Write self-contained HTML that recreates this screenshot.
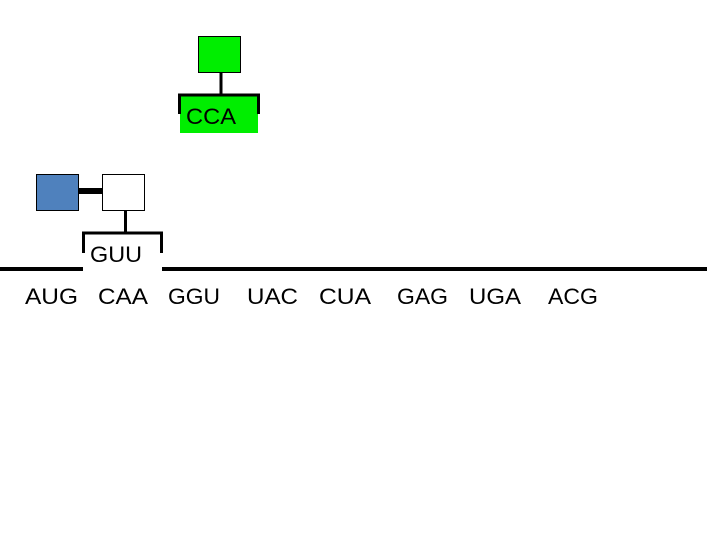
<!DOCTYPE html>
<html><head><meta charset="utf-8"><style>
html,body{margin:0;padding:0;background:#fff;width:720px;height:540px;overflow:hidden}
svg text{font-family:"Liberation Sans",sans-serif;font-size:22px;fill:#000}
</style></head><body>
<svg width="720" height="540" viewBox="0 0 720 540" xmlns="http://www.w3.org/2000/svg">
<!-- green tRNA -->
<rect x="198.5" y="36.5" width="42" height="36" fill="#00ee00" stroke="#000" stroke-width="1"/>
<line x1="221" y1="72" x2="221" y2="95" stroke="#000" stroke-width="3"/>
<rect x="180" y="95" width="78" height="38" fill="#00ee00"/>
<line x1="178" y1="95" x2="260" y2="95" stroke="#000" stroke-width="3"/>
<line x1="179.5" y1="94" x2="179.5" y2="114" stroke="#000" stroke-width="3"/>
<line x1="258.5" y1="94" x2="258.5" y2="114" stroke="#000" stroke-width="3"/>
<text x="186" y="124" textLength="50" lengthAdjust="spacingAndGlyphs">CCA</text>
<!-- blue/white tRNA -->
<rect x="36.5" y="174.5" width="42" height="36" fill="#4f81bd" stroke="#000" stroke-width="1"/>
<rect x="102.5" y="174.5" width="42" height="36" fill="#fff" stroke="#000" stroke-width="1"/>
<rect x="78" y="188" width="24" height="6" fill="#000"/>
<line x1="125.5" y1="210" x2="125.5" y2="233" stroke="#000" stroke-width="3"/>
<line x1="82" y1="233" x2="163" y2="233" stroke="#000" stroke-width="3"/>
<line x1="83.5" y1="232" x2="83.5" y2="253" stroke="#000" stroke-width="3"/>
<line x1="161.5" y1="232" x2="161.5" y2="253" stroke="#000" stroke-width="3"/>
<text x="90" y="262" textLength="52" lengthAdjust="spacingAndGlyphs">GUU</text>
<!-- mRNA line -->
<rect x="0" y="267" width="83" height="4" fill="#000"/>
<rect x="162" y="267" width="545" height="4" fill="#000"/>
<text x="25" y="304" textLength="53" lengthAdjust="spacingAndGlyphs">AUG</text>
<text x="98" y="304" textLength="50" lengthAdjust="spacingAndGlyphs">CAA</text>
<text x="168" y="304" textLength="52" lengthAdjust="spacingAndGlyphs">GGU</text>
<text x="247" y="304" textLength="51" lengthAdjust="spacingAndGlyphs">UAC</text>
<text x="319" y="304" textLength="52" lengthAdjust="spacingAndGlyphs">CUA</text>
<text x="397" y="304" textLength="51" lengthAdjust="spacingAndGlyphs">GAG</text>
<text x="469" y="304" textLength="52" lengthAdjust="spacingAndGlyphs">UGA</text>
<text x="548" y="304" textLength="50" lengthAdjust="spacingAndGlyphs">ACG</text>
</svg>
</body></html>
